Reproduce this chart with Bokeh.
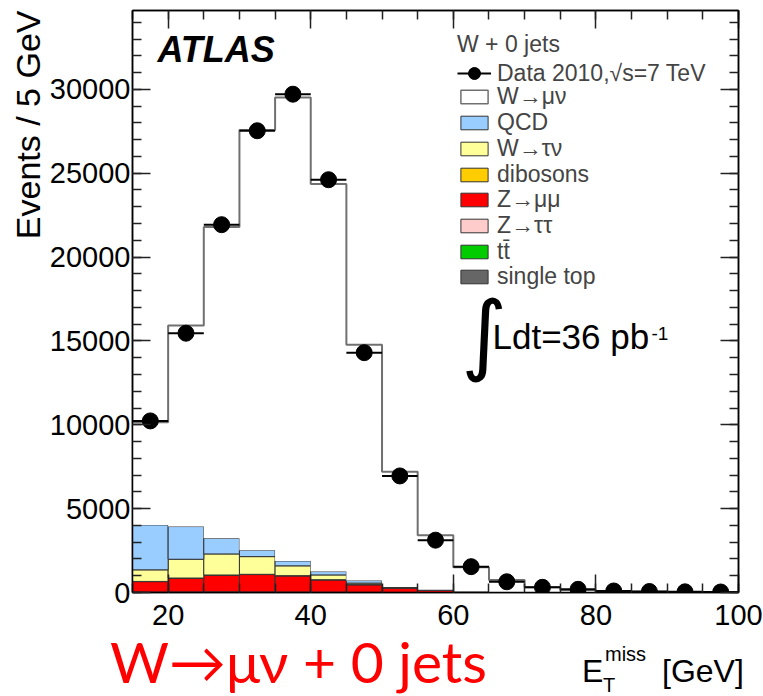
import numpy as np
from bokeh.plotting import figure
from bokeh.layouts import column
from bokeh.models import (FixedTicker, LinearAxis, Label, Legend, LegendItem, Range1d, Title, Div)
from bokeh.embed import file_html
from bokeh.resources import INLINE

# ---- data ----
bin_edges = [15, 20, 25, 30, 35, 40, 45, 50, 55, 60, 65, 70, 75, 80, 85, 90, 95, 100]
data_counts = [10230, 15460, 21930, 27530, 29710, 24610, 14300, 6950, 3120, 1540, 640, 310, 190, 90, 60, 40, 30]
w_munu = [6120, 11990, 18570, 25050, 27630, 23110, 14060, 6870, 3250, 1440, 715, 300, 145, 77, 48, 34, 24]
qcd = [2680, 1950, 930, 380, 290, 200, 150, 20, 30, 10, 5, 2, 1, 1, 1, 0, 0]
w_taunu = [690, 1120, 1255, 1055, 585, 285, 90, 35, 15, 8, 4, 2, 1, 0, 0, 0, 0]
dibosons = [10, 12, 14, 15, 15, 13, 10, 7, 4, 2, 1, 1, 0, 0, 0, 0, 0]
z_mumu = [620, 813, 992, 1037, 962, 728, 445, 250, 115, 36, 13, 5, 3, 2, 1, 1, 0]
z_tautau = [25, 30, 30, 25, 20, 15, 10, 6, 3, 2, 1, 1, 0, 0, 0, 0, 0]
ttbar = [2, 3, 3, 3, 3, 3, 2, 2, 1, 1, 0, 0, 0, 0, 0, 0, 0]
single_top = [3, 4, 5, 5, 5, 4, 3, 2, 1, 1, 1, 0, 0, 0, 0, 0, 0]

x_ticks = [20, 40, 60, 80, 100]
y_ticks = [0, 5000, 10000, 15000, 20000, 25000, 30000]

# stack order bottom -> top
stack_names = ["single top", "tt\u0304", "Z\u2192\u03c4\u03c4", "Z\u2192\u03bc\u03bc", "dibosons",
               "W\u2192\u03c4\u03bd", "QCD", "W\u2192\u03bc\u03bd"]
stack_vals = [single_top, ttbar, z_tautau, z_mumu, dibosons, w_taunu, qcd, w_munu]
stack_colors = ["#666666", "#00cc00", "#ffcccc", "#ff0000", "#ffcc00", "#ffff99", "#99ccff", "#ffffff"]

edges = np.array(bin_edges, dtype=float)
left, right = edges[:-1], edges[1:]
centers = 0.5 * (left + right)
data = np.array(data_counts, dtype=float)

FONT = "Liberation Sans"

p = figure(width=763, height=640, x_range=Range1d(15, 100), y_range=Range1d(0, 34700),
           output_backend="svg", toolbar_location=None,
           min_border_left=132, min_border_right=25, min_border_top=10, min_border_bottom=48)
p.background_fill_color = "white"
p.border_fill_color = "white"
p.outline_line_color = "black"
p.outline_line_width = 1.5
p.xgrid.grid_line_color = None
p.ygrid.grid_line_color = None

xminor = list(bin_edges)
yminor = list(range(0, 35000, 1000))

def style_axis(ax, ticks, minor, show_labels):
    ax.ticker = FixedTicker(ticks=ticks, minor_ticks=minor)
    ax.major_tick_in = 18
    ax.major_tick_out = 0
    ax.minor_tick_in = 9
    ax.minor_tick_out = 0
    ax.major_tick_line_color = "#222222"
    ax.minor_tick_line_color = "#222222"
    ax.major_tick_line_width = 1.5
    ax.minor_tick_line_width = 1.5
    ax.axis_line_color = "black"
    ax.axis_line_width = 1.5
    ax.major_label_text_font = FONT
    if show_labels:
        ax.major_label_text_color = "black"
        ax.major_label_text_font_size = "29px"
    else:
        ax.major_label_text_color = None
        ax.major_label_text_font_size = "1px"
        ax.major_label_standoff = 0

xa = p.xaxis[0]
style_axis(xa, x_ticks, xminor, True)
xa.major_label_standoff = 12
ya = p.yaxis[0]
style_axis(ya, y_ticks, yminor, True)
ya.major_label_standoff = 2

top_ax = LinearAxis()
style_axis(top_ax, x_ticks, xminor, False)
p.add_layout(top_ax, "above")
right_ax = LinearAxis()
style_axis(right_ax, y_ticks, yminor, False)
p.add_layout(right_ax, "right")

p.add_layout(Title(text="Events / 5 GeV", align="right", text_font=FONT, text_font_size="34px",
                   text_font_style="normal", text_color="black", standoff=0), "left")

# ---- stacked MC ----
bottom = np.zeros(len(centers))
stack_renderers = {}
wm_bottom = None
for name, vals, col in zip(stack_names, stack_vals, stack_colors):
    v = np.array(vals, dtype=float)
    top = bottom + v
    if name.startswith("W\u2192\u03bc"):
        r = p.quad(left=left, right=right, bottom=bottom, top=top, fill_color=col, line_color=None)
        wm_bottom = bottom
    else:
        r = p.quad(left=left, right=right, bottom=bottom, top=top,
                   fill_color=col, line_color="#333333", line_width=1)
    stack_renderers[name] = r
    bottom = top
total = bottom
p.step(x=edges, y=np.append(total, total[-1]), mode="after", line_color="#707070", line_width=2)

# hidden copy of the W->mu nu boxes with outline, used only for the legend swatch
wmunu_leg = p.quad(left=left, right=right, bottom=wm_bottom, top=total, fill_color="white",
                   line_color="#707070", line_width=1.5, visible=False)
stack_renderers["W\u2192\u03bc\u03bd"] = wmunu_leg

# ---- data ----
err = np.sqrt(data)
xerr = p.segment(x0=left, x1=right, y0=data, y1=data, line_color="black", line_width=2)
p.segment(x0=centers, x1=centers, y0=data - err, y1=data + err, line_color="black", line_width=2)
pts = p.scatter(x=centers, y=data, size=16, marker="circle", fill_color="black", line_color="black")

# ---- legend (one row per Legend so every row sits at the reference pitch) ----
leg_common = dict(label_text_font=FONT, label_text_font_size="23px", glyph_width=34,
                  label_standoff=6, padding=0, margin=0, border_line_color=None, spacing=0,
                  background_fill_alpha=0, inactive_fill_alpha=0)

legend_a = Legend(items=[LegendItem(label="Data 2010,\u221as=7 TeV", renderers=[xerr, pts])],
                  location=(325, 504), title="W + 0 jets",
                  title_text_font=FONT, title_text_font_size="23px", title_text_font_style="normal",
                  title_standoff=0, glyph_height=30, **leg_common)
p.add_layout(legend_a, "center")

legend_order = ["W\u2192\u03bc\u03bd", "QCD", "W\u2192\u03c4\u03bd", "dibosons", "Z\u2192\u03bc\u03bc",
                "Z\u2192\u03c4\u03c4", "tt\u0304", "single top"]
row_top = 481.5   # screen offset of the first row, rows 25.7 px apart
for i, name in enumerate(legend_order):
    lg = Legend(items=[LegendItem(label=name, renderers=[stack_renderers[name]])],
                location=(325, round(row_top - 25.7 * i)), glyph_height=17, **leg_common)
    p.add_layout(lg, "center")

# ---- texts inside the frame ----
def lab(fig, **kw):
    kw.setdefault("x_units", "screen")
    kw.setdefault("y_units", "screen")
    kw.setdefault("text_font", FONT)
    kw.setdefault("text_color", "black")
    fig.add_layout(Label(**kw))

lab(p, x=25, y=523, text="ATLAS", text_font_size="36px", text_font_style="bold italic")
lab(p, x=352, y=259, text="\u222b", text_font="DejaVu Sans", text_font_size="88px",
    text_align="center", text_baseline="middle")
lab(p, x=360, y=237, text="Ldt=36 pb", text_font_size="35px")
lab(p, x=519, y=253, text="-1", text_font_size="19px")

# ---- strip below the plot: axis title and caption (HTML text) ----
def span(txt, x, top, size, font, color="black"):
    return ('<span style="position:absolute;left:%dpx;top:%dpx;font-family:\'%s\';font-size:%dpx;'
            'line-height:1;white-space:nowrap;color:%s;">%s</span>' % (x, top, font, size, color, txt))

html = ('<div style="position:relative;width:763px;height:56px;overflow:visible;">'
        + span("W\u2192\u03bc\u03bd + 0 jets", 110, -7, 57, "Lato", "#ff0000")
        + span("E", 582, 15, 32, FONT)
        + span("T", 603, 35, 20, FONT)
        + span("miss", 605, 4, 20, FONT)
        + span("[GeV]", 662, 15, 32, FONT)
        + '</div>')
caption = Div(text=html, width=763, height=56, margin=0, styles={"overflow": "visible"})

layout = column(p, caption, spacing=0)
open("out.html", "w").write(file_html(layout, INLINE))
